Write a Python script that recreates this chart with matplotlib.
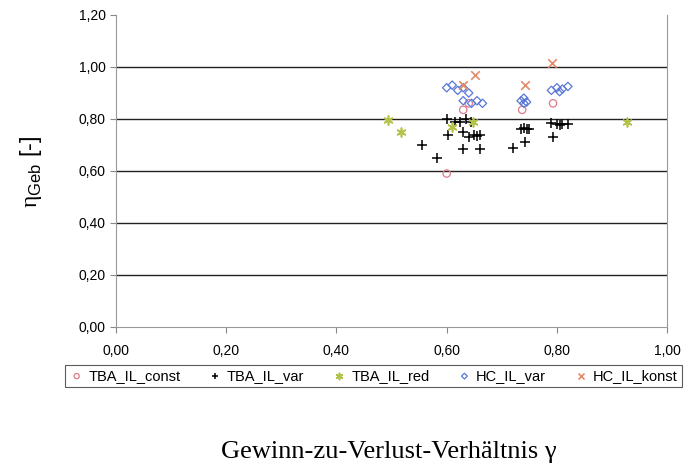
import numpy as np
import matplotlib
matplotlib.use("Agg")
import matplotlib.pyplot as plt

# data (gamma, eta_Geb)
tba_const_x = [0.63, 0.64, 0.737, 0.793, 0.60]
tba_const_y = [0.835, 0.86, 0.835, 0.86, 0.59]

tba_var_x = [0.555, 0.583, 0.603, 0.60, 0.615, 0.625, 0.635, 0.645, 0.63, 0.63,
             0.64, 0.65, 0.655, 0.66, 0.66, 0.72, 0.742, 0.735, 0.74, 0.745,
             0.75, 0.79, 0.793, 0.80, 0.81, 0.82, 0.805]
tba_var_y = [0.70, 0.65, 0.74, 0.80, 0.79, 0.79, 0.80, 0.79, 0.685, 0.75,
             0.73, 0.74, 0.735, 0.74, 0.685, 0.69, 0.71, 0.76, 0.765, 0.76,
             0.76, 0.785, 0.73, 0.78, 0.78, 0.78, 0.775]

tba_red_x = [0.494, 0.517, 0.61, 0.648, 0.927]
tba_red_y = [0.796, 0.75, 0.77, 0.79, 0.79]

hc_var_x = [0.60, 0.61, 0.62, 0.63, 0.64, 0.63, 0.645, 0.655, 0.665,
            0.735, 0.74, 0.745, 0.74, 0.79, 0.80, 0.81, 0.82, 0.805]
hc_var_y = [0.92, 0.93, 0.91, 0.92, 0.90, 0.87, 0.86, 0.87, 0.86,
            0.87, 0.88, 0.865, 0.86, 0.91, 0.92, 0.915, 0.925, 0.905]

hc_konst_x = [0.63, 0.652, 0.742, 0.791]
hc_konst_y = [0.93, 0.97, 0.93, 1.015]

x_ticks = [0.0, 0.2, 0.4, 0.6, 0.8, 1.0]
y_ticks = [0.0, 0.2, 0.4, 0.6, 0.8, 1.0, 1.2]


def comma(v):
    return ("%.2f" % v).replace(".", ",")


plt.rcParams['font.family'] = ['Liberation Sans', 'DejaVu Sans']
plt.rcParams['mathtext.fontset'] = 'custom'
plt.rcParams['mathtext.rm'] = 'Liberation Serif'
plt.rcParams['mathtext.sf'] = 'Liberation Sans'

fig = plt.figure(figsize=(6.87, 4.67), dpi=100)
ax = fig.add_axes([0.169, 0.300, 0.802, 0.668])

# horizontal gridlines
for yv in y_ticks[1:-1]:
    ax.axhline(yv, color='#222222', lw=1.0, zorder=1)

ax.scatter(tba_const_x, tba_const_y, marker='o', s=28, facecolors='none',
           edgecolors='#e07a8a', linewidths=0.9, label='TBA_IL_const', zorder=3)
ax.scatter(tba_var_x, tba_var_y, marker='+', s=45, color='black',
           linewidths=1.1, label='TBA_IL_var', zorder=3)
ax.scatter(tba_red_x, tba_red_y, marker=(6, 2, 0), s=40, color='#b5c24a',
           linewidths=1.2, label='TBA_IL_red', zorder=3)
ax.scatter(hc_var_x, hc_var_y, marker='D', s=18, facecolors='none',
           edgecolors='#5a78d8', linewidths=0.9, label='HC_IL_var', zorder=3)
ax.scatter(hc_konst_x, hc_konst_y, marker='x', s=38, color='#e58a6a',
           linewidths=1.2, label='HC_IL_konst', zorder=3)

ax.set_xlim(0, 1.0)
ax.set_ylim(0, 1.2)
ax.set_xticks(x_ticks)
ax.set_xticklabels([comma(v) for v in x_ticks])
ax.set_yticks(y_ticks)
ax.set_yticklabels([comma(v) for v in y_ticks])
ax.tick_params(axis='both', labelsize=10, length=4, color='#888888', direction='out')
ax.tick_params(axis='x', pad=8)

for side in ['left', 'bottom', 'right']:
    ax.spines[side].set_color('#999999')
ax.spines['top'].set_visible(False)

fig.text(0.045, 0.632, r'$\mathrm{\eta}_{\mathsf{Geb}}$ [-]', fontsize=17,
         rotation=90, ha='center', va='center')

leg = fig.legend(loc='center left', bbox_to_anchor=(0.084, 0.195), ncol=5,
                 fontsize=10.5, frameon=True, fancybox=False, edgecolor='#333333',
                 handletextpad=0.3, columnspacing=1.9, borderpad=0.3,
                 handlelength=1.0, markerscale=0.7)
leg.get_frame().set_linewidth(0.8)

fig.text(0.566, 0.032, 'Gewinn-zu-Verlust-Verhältnis γ', fontsize=19,
         family='Liberation Serif', ha='center', va='center')

fig.savefig('out.png', dpi=100)
